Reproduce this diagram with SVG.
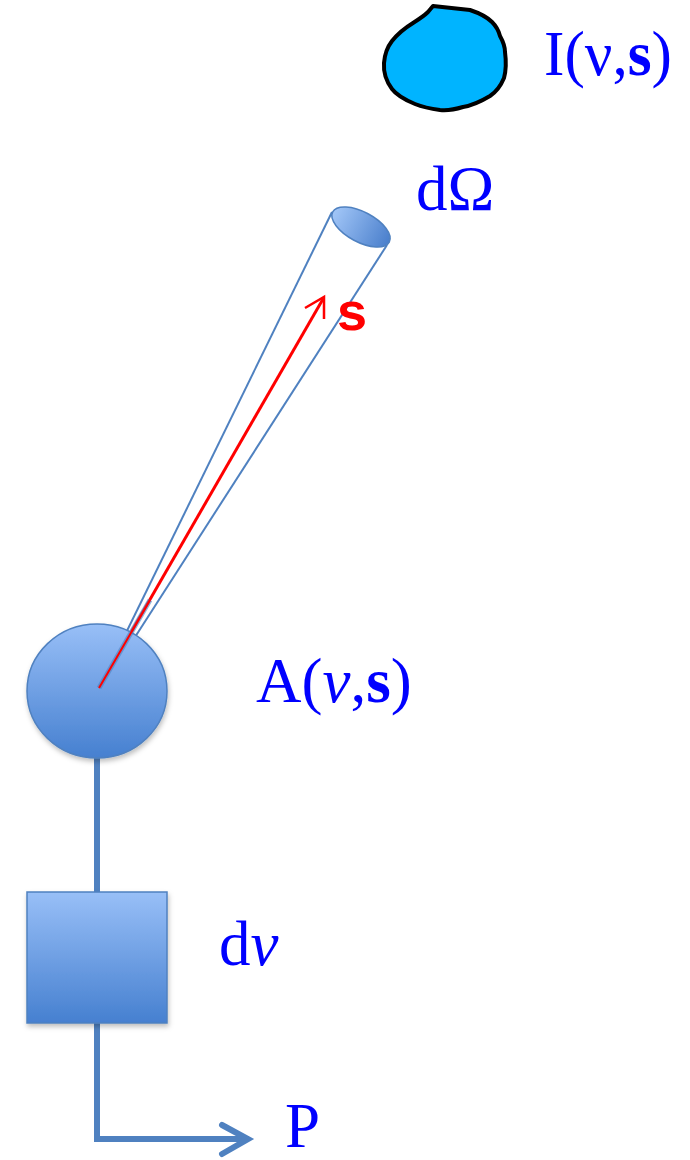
<svg xmlns="http://www.w3.org/2000/svg" width="690" height="1160" viewBox="0 0 690 1160">
<style>
.lbl{font-family:"Liberation Serif","Times New Roman",serif;font-size:63px;fill:#0000ff}
.conn{fill:none;stroke:#4f81c0;stroke-width:6;stroke-linejoin:miter}
.cone{fill:none;stroke:#4f81c0;stroke-width:2}
</style>
<defs>
<linearGradient id="gv" x1="0" y1="0" x2="0" y2="1">
<stop offset="0" stop-color="#98bff7"/>
<stop offset="1" stop-color="#4680d0"/>
</linearGradient>
<linearGradient id="gh" x1="0" y1="0" x2="1" y2="0">
<stop offset="0" stop-color="#a2c6f7"/>
<stop offset="1" stop-color="#4a7fcc"/>
</linearGradient>
<filter id="sh" x="-20%" y="-20%" width="140%" height="140%">
<feDropShadow dx="1" dy="3" stdDeviation="2.5" flood-color="#000" flood-opacity="0.25"/>
</filter>
</defs>

<g id="connectors">
<line x1="97" y1="758" x2="97" y2="892" class="conn"/>
<path d="M97,1023 L97,1139 L248,1139" class="conn"/>
<path d="M222,1125 L248,1139 L222,1154" class="conn" stroke-linecap="round"/>
</g>

<g id="source">
<path d="M433,6 L470,10 Q485,15 492,22 Q498,28 500,36 Q505,45 505,52 Q507,67 504,78 Q499,90 490,96 Q475,105 463,107 Q450,111 440,110 Q425,108 415,104 Q398,97 392,89 Q383,77 384,63 Q385,50 392,41 Q400,31 413,23 Q424,16 428,12 Z" fill="#00b4ff" stroke="#000" stroke-width="4" stroke-linejoin="round"/>
</g>
<g id="label-I">
<text x="544" y="75" class="lbl" font-size="66" textLength="128" lengthAdjust="spacingAndGlyphs">I(ν,<tspan font-weight="bold">s</tspan>)</text>
</g>

<g id="cone">
<line x1="332" y1="212" x2="99" y2="688" class="cone"/>
<line x1="387" y1="245" x2="101" y2="690" class="cone"/>
<line x1="99" y1="688" x2="323" y2="299" stroke="#ff0000" stroke-width="3"/>
<path d="M305,308 L324,297 L324,319" fill="none" stroke="#ff0000" stroke-width="2.5" stroke-linejoin="miter"/>
<ellipse cx="361" cy="227" rx="32" ry="15" transform="rotate(28 361 227)" fill="url(#gh)" stroke="#4f81c0" stroke-width="1.5"/>
<text x="337" y="330" font-family="'Liberation Sans',Arial,sans-serif" font-weight="bold" font-size="54" fill="#ff0000">s</text>
</g>
<g id="label-dOmega">
<text x="416" y="210" class="lbl">dΩ</text>
</g>

<g id="antenna">
<ellipse cx="97" cy="691" rx="70" ry="67" fill="url(#gv)" stroke="#4f81c0" stroke-width="1.5" filter="url(#sh)"/>
<line x1="99" y1="688" x2="150" y2="600" stroke="#4f81c0" stroke-width="5" opacity="0.6"/>
<line x1="99" y1="688" x2="150" y2="600" stroke="#ff0000" stroke-width="2"/>
</g>
<g id="label-A">
<text x="256" y="702" class="lbl">A(<tspan font-style="italic">ν</tspan>,<tspan font-weight="bold">s</tspan>)</text>
</g>

<g id="filter-box">
<rect x="27" y="892" width="140" height="131" fill="url(#gv)" stroke="#4f81c0" stroke-width="1.5" filter="url(#sh)"/>
</g>
<g id="label-dnu">
<text x="219" y="965" class="lbl">d<tspan font-style="italic">ν</tspan></text>
</g>

<g id="label-P">
<text x="285" y="1147" class="lbl">P</text>
</g>
</svg>
